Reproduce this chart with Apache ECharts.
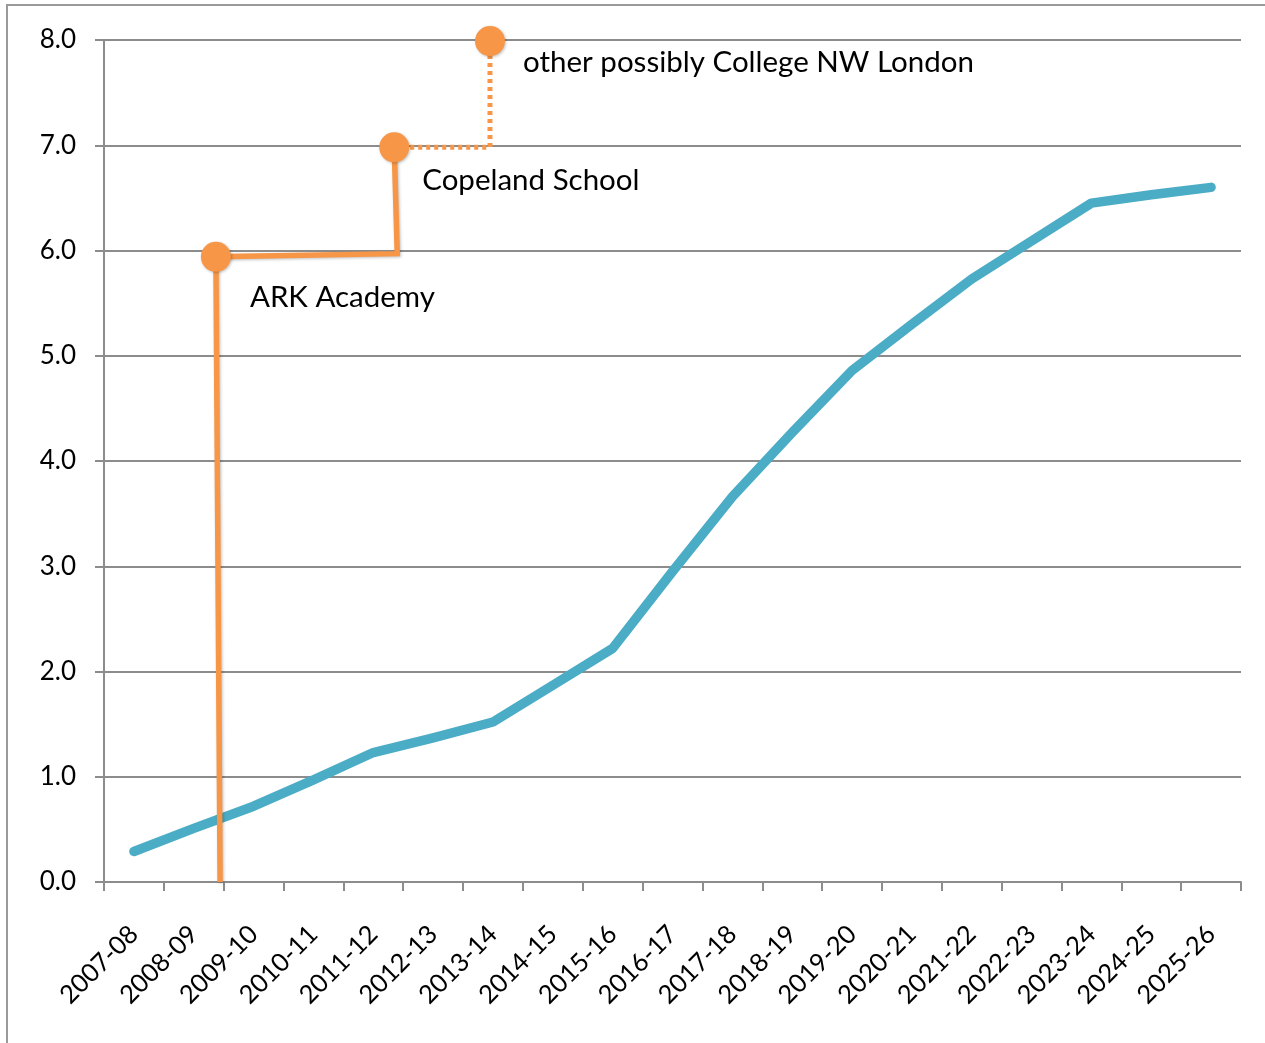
<!DOCTYPE html>
<html>
<head>
<meta charset="utf-8">
<script src="https://cdn.jsdelivr.net/npm/echarts@6/dist/echarts.min.js"></script>
<style>html,body{margin:0;padding:0;background:#fff;}#c{width:1265px;height:1043px;}</style>
</head>
<body>
<div id="c"></div>
<script>
const categories = ['2007-08','2008-09','2009-10','2010-11','2011-12','2012-13','2013-14','2014-15','2015-16','2016-17','2017-18','2018-19','2019-20','2020-21','2021-22','2022-23','2023-24','2024-25','2025-26'];
const pupilValues = [0.29,0.51,0.72,0.97,1.23,1.37,1.52,1.87,2.22,2.95,3.66,4.27,4.86,5.30,5.73,6.09,6.45,6.53,6.60];
const yTicks = [0,1,2,3,4,5,6,7,8];
// orange path on a hidden value x-axis (category units, 0 = left edge)
const schoolSolidPath = [[1.94,0],[1.87,5.94],[4.90,5.97],[4.85,6.98]];
const schoolDottedPath = [[4.85,6.98],[6.45,6.98],[6.45,7.99]];
const schoolPoints = [[1.87,5.94],[4.85,6.98],[6.45,7.99]];
const schoolNames = ['ARK Academy','Copeland School','other possibly College NW London'];
const labelOffsets = [[34,41],[28,33],[33,21]];

const FONT = 'Lato, "Open Sans", sans-serif';
const ORANGE = '#F79646', BLUE = '#4BACC6', AXIS = '#8c8c8c';

const chart = echarts.init(document.getElementById('c'), null, {renderer:'canvas'});
chart.setOption({
  animation:false,
  backgroundColor:'#fff',
  graphic:[{type:'rect', shape:{x:7,y:5,width:1300,height:1100}, style:{fill:'none', stroke:'#9a9a9a', lineWidth:2}, silent:true, z:-1}],
  grid:{left:104,right:24,top:40,bottom:161},
  xAxis:[{
    type:'category', data:categories, boundaryGap:true,
    axisLine:{lineStyle:{color:AXIS,width:2}},
    axisTick:{show:true,length:9,lineStyle:{color:AXIS,width:2}},
    axisLabel:{rotate:45,interval:0,margin:48,color:'#000',fontSize:25.5,fontFamily:FONT},
    splitLine:{show:false}
  },{
    type:'value', min:0, max:categories.length, show:false, gridIndex:0
  }],
  yAxis:{
    type:'value', min:yTicks[0], max:yTicks[yTicks.length-1], interval:1,
    axisLine:{show:true,lineStyle:{color:AXIS,width:2}},
    axisTick:{show:true,length:9,lineStyle:{color:AXIS,width:2}},
    axisLabel:{margin:28,color:'#000',fontSize:26,fontFamily:FONT,formatter:v=>v.toFixed(1)},
    splitLine:{show:true,lineStyle:{color:AXIS,width:2}}
  },
  series:[
    {type:'line', data:pupilValues, xAxisIndex:0, symbol:'none',
     lineStyle:{color:BLUE,width:9.5,cap:'round',join:'round'}, z:2},
    {type:'line', data:schoolSolidPath, xAxisIndex:1, symbol:'none',
     lineStyle:{color:ORANGE,width:5.5,join:'miter',shadowColor:'rgba(0,0,0,0.25)',shadowBlur:3,shadowOffsetX:1,shadowOffsetY:1}, z:3},
    {type:'line', data:schoolDottedPath, xAxisIndex:1, symbol:'none',
     lineStyle:{color:ORANGE,width:5,type:[4,4],cap:'butt'}, z:3},
    {type:'scatter', xAxisIndex:1, symbolSize:30, z:4,
     itemStyle:{color:ORANGE,opacity:1,shadowColor:'rgba(0,0,0,0.25)',shadowBlur:3,shadowOffsetX:1,shadowOffsetY:1},
     emphasis:{disabled:true},
     data:schoolPoints.map((p,i)=>({value:p, name:schoolNames[i],
       label:{show:true, position:'inside', align:'left', verticalAlign:'middle', offset:labelOffsets[i],
         formatter:schoolNames[i], color:'#000', fontSize:29.5, fontFamily:FONT}}))}
  ]
});
</script>
</body>
</html>
